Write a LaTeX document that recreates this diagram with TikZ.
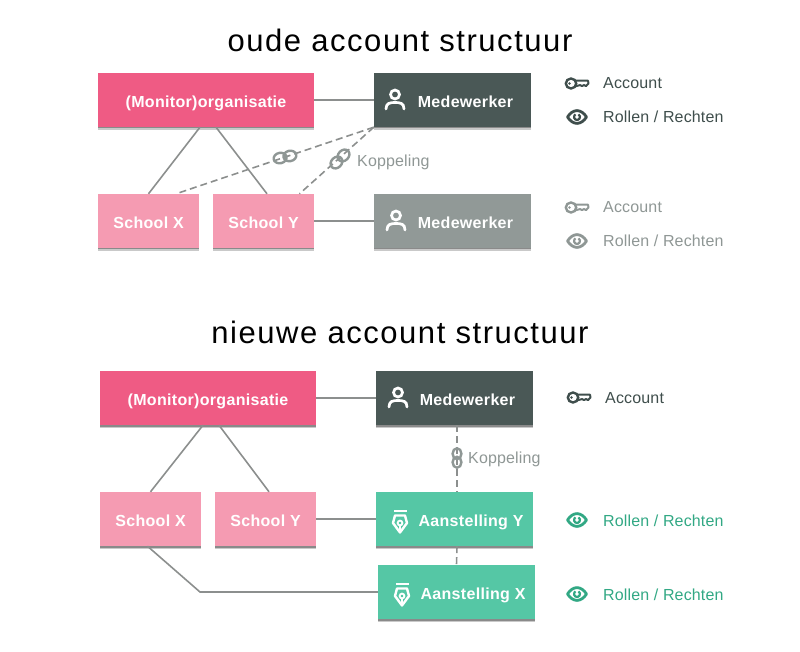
\documentclass[tikz,border=0pt]{standalone}
\usepackage{fontspec}
\setmainfont{Liberation Sans}
\newfontfamily\titlefont[LetterSpace=5]{Liberation Sans}
\newfontfamily\boxfont[LetterSpace=2]{Liberation Sans}
\newfontfamily\labelfont[LetterSpace=1]{Liberation Sans}
\usetikzlibrary{shadows}
\definecolor{roze}{HTML}{EF5B84}
\definecolor{lichtroze}{HTML}{F59BB2}
\definecolor{donker}{HTML}{4A5856}
\definecolor{grijs}{HTML}{919997}
\definecolor{groen}{HTML}{55C7A5}
\definecolor{donkertekst}{HTML}{3F4E4C}
\definecolor{grijstekst}{HTML}{8F9795}
\definecolor{groentekst}{HTML}{32A884}
\definecolor{lijn}{HTML}{8C8F8E}
\tikzset{
  box/.style={minimum height=54pt, inner sep=0pt, text=white, text height=15.5pt, text depth=0pt,
    font=\boxfont\bfseries\fontsize{16}{18}\selectfont,
    drop shadow={shadow xshift=0pt, shadow yshift=-3pt, opacity=.3, fill=black!70},
    drop shadow={shadow xshift=0pt, shadow yshift=-1.5pt, opacity=.5, fill=black!70}},
  orgbox/.style={box, fill=roze, minimum width=216pt},
  schoolbox/.style={box, fill=lichtroze, minimum width=101pt},
  werkbox/.style={box, fill=#1, minimum width=157pt},
  iconshift/.style={execute at begin node={\hspace*{#1pt}}},
  titel/.style={font=\titlefont\fontsize{31}{36}\selectfont, text=black},
  legenda/.style={anchor=west, inner sep=0pt, text height=12pt, text depth=0pt,
    font=\labelfont\fontsize{16}{18}\selectfont},
  verbinding/.style={draw=lijn, line width=1.6pt},
  koppeling/.style={verbinding, dash pattern=on 7pt off 4pt},
  keyicon/.pic={
    \draw[line width=2.4pt] (-6,0) ellipse (5.2 and 5);
    \fill (-7.5,0) circle (1.4);
    \draw[line width=2pt, line join=round] (-1,-2.8) -- (11,-2.8) -- (11.5,0) -- (9,2.6)
      -- (7,1.6) -- (5,2.6) -- (3,1.6) -- (-1,2.6);
  },
  eyeicon/.pic={
    \draw[line width=2.8pt, line join=round] (-9.5,0) .. controls (-4,-8.5) and (4,-8.5) .. (9.5,0)
      .. controls (4,8.5) and (-4,8.5) .. (-9.5,0) -- cycle;
    \draw[line width=2.2pt] (1.5,-2.6) arc (-60:240:3);
  },
  personicon/.pic={
    \draw[line width=2.7pt, line cap=round] (0,-5.5) circle (4.5);
    \draw[line width=2.7pt, line cap=round] (-9,9) .. controls (-9,3) and (-5,2.5) .. (0,2.5)
      .. controls (5,2.5) and (9,3) .. (9,9);
  },
  linkicon/.pic={
    \draw[line width=2.4pt] (-5,0) ellipse (6.5 and 5.2);
    \draw[line width=2.4pt] (5,0) ellipse (6.5 and 5.2);
  },
  penicon/.pic={
    \fill (-6.5,-12) rectangle (6.5,-10);
    \draw[line width=2.4pt, line join=round] (-5,-6.5) -- (5,-6.5) -- (7,1) -- (0,10.5)
      -- (-7,1) -- cycle;
    \draw[line width=1.8pt] (0,1) circle (2.4);
    \draw[line width=1.4pt] (0,3) -- (0,10);
  },
}
\begin{document}
\begin{tikzpicture}[x=1pt, y=-1pt]
  \useasboundingbox (0,0) rectangle (800,652);
  % oude structuur
  \node[titel] (titeloud) at (400,40) {oude account structuur};
  \node[orgbox] (orgoud) at (206,100) {(Monitor)organisatie};
  \node[werkbox=donker, iconshift=26] (werkoud) at (452.5,100) {Medewerker};
  \node[schoolbox] (schoolxoud) at (148.5,221) {School X};
  \node[schoolbox] (schoolyoud) at (263.5,221) {School Y};
  \node[werkbox=grijs, iconshift=26] (werkgrijs) at (452.5,221) {Medewerker};
  \draw[verbinding] (orgoud) -- (werkoud);
  \draw[verbinding] ([xshift=-6pt]orgoud.south) -- (schoolxoud.north);
  \draw[verbinding] ([xshift=10pt]orgoud.south) -- ([xshift=3.5pt]schoolyoud.north);
  \draw[verbinding] (schoolyoud) -- (werkgrijs);
  \draw[koppeling] (werkoud.south west) -- ([xshift=27.5pt]schoolxoud.north);
  \draw[koppeling] (werkoud.south west) -- ([xshift=36pt]schoolyoud.north);
  \pic[color=white] at (395,100) {personicon};
  \pic[color=white] at (396,221) {personicon};
  \pic[color=grijstekst, rotate=12] at (285,157) {linkicon};
  \pic[color=grijstekst, rotate=45] at (340,159) {linkicon};
  \node[legenda, text=grijstekst] (koppelingoud) at (357,161) {Koppeling};
  % legenda boven
  \pic[color=donkertekst] at (577,83.5) {keyicon};
  \node[legenda, text=donkertekst] (accountoud) at (603,83) {Account};
  \pic[color=donkertekst] at (577,117) {eyeicon};
  \node[legenda, text=donkertekst] (rollenoud) at (603,117) {Rollen / Rechten};
  \pic[color=grijstekst] at (577,207.5) {keyicon};
  \node[legenda, text=grijstekst] (accountgrijs) at (603,207) {Account};
  \pic[color=grijstekst] at (577,241) {eyeicon};
  \node[legenda, text=grijstekst] (rollengrijs) at (603,241) {Rollen / Rechten};
  % nieuwe structuur
  \node[titel] (titelnieuw) at (400,332) {nieuwe account structuur};
  \node[orgbox] (orgnieuw) at (208,398) {(Monitor)organisatie};
  \node[werkbox=donker, iconshift=26] (werknieuw) at (454.5,398) {Medewerker};
  \node[schoolbox] (schoolxnieuw) at (150.5,519) {School X};
  \node[schoolbox] (schoolynieuw) at (265.5,519) {School Y};
  \node[werkbox=groen, iconshift=33] (aanstellingy) at (454.5,519) {Aanstelling Y};
  \node[werkbox=groen, iconshift=33] (aanstellingx) at (456.5,592) {Aanstelling X};
  \coordinate (knik) at (200,592);
  \draw[verbinding] (orgnieuw) -- (werknieuw);
  \draw[verbinding] ([xshift=-5pt]orgnieuw.south) -- (schoolxnieuw.north);
  \draw[verbinding] ([xshift=11pt]orgnieuw.south) -- ([xshift=3.5pt]schoolynieuw.north);
  \draw[verbinding] (schoolynieuw) -- (aanstellingy);
  \draw[verbinding] ([xshift=-3pt]schoolxnieuw.south) -- (knik) -- (aanstellingx);
  \draw[koppeling] ([xshift=2.5pt]werknieuw.south) -- ([xshift=2.5pt]aanstellingy.north);
  \draw[koppeling] ([xshift=2.5pt]aanstellingy.south) -- (aanstellingx.north);
  \pic[color=white] at (398,398) {personicon};
  \pic[color=white] at (400,522) {penicon};
  \pic[color=white] at (402,595) {penicon};
  \pic[color=grijstekst, rotate=90, scale=.85] at (457,458) {linkicon};
  \node[legenda, text=grijstekst] (koppelingnieuw) at (468,457) {Koppeling};
  % legenda onder
  \pic[color=donkertekst] at (579,397.5) {keyicon};
  \node[legenda, text=donkertekst] (accountnieuw) at (605,397) {Account};
  \pic[color=groentekst] at (577,520) {eyeicon};
  \node[legenda, text=groentekst] (rolleny) at (603,520) {Rollen / Rechten};
  \pic[color=groentekst] at (577,594) {eyeicon};
  \node[legenda, text=groentekst] (rollenx) at (603,594) {Rollen / Rechten};
\end{tikzpicture}
\end{document}
